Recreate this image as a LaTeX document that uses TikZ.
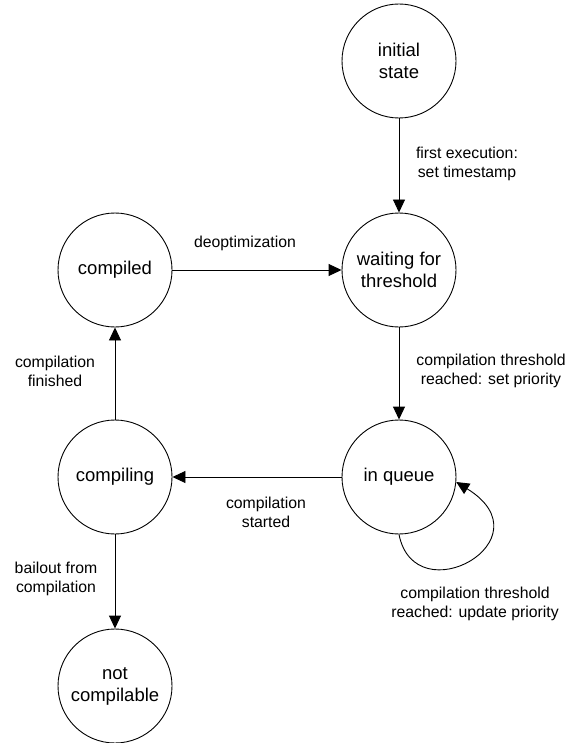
\documentclass[tikz,border=0pt]{standalone}
\usepackage{fontspec}
\setmainfont{Liberation Sans}
\usetikzlibrary{arrows.meta}
\begin{document}
\begin{tikzpicture}[x=1pt,y=-1pt,
  state/.style={circle,draw,line width=0.9pt,minimum size=114pt,inner sep=0pt,align=center,font=\fontsize{18.5}{22}\selectfont},
  lbl/.style={align=center,font=\fontsize{15.8}{19}\selectfont},
  edge/.style={draw,line width=0.9pt,-{Triangle[length=13pt,width=12pt]}}]
\useasboundingbox (0,0) rectangle (574,743);
\node[state] (init) at (399,61) {initial\\state};
\node[state] (wait) at (399,270) {waiting for\\threshold};
\node[state] (comp) at (115,270) {compiled};
\node[state] (queue) at (399,477) {in queue};
\node[state] (cing) at (115,477) {compiling};
\node[state] (notc) at (115,686) {not\\compilable};
\draw[edge] (init) -- (wait);
\draw[edge] (comp) -- (wait);
\draw[edge] (wait) -- (queue);
\draw[edge] (queue) -- (cing);
\draw[edge] (cing) -- (comp);
\draw[edge] (cing) -- (notc);
\draw[edge] (queue.south) .. controls (415,615) and (550,540) .. (queue.-5);
\node[lbl] (l1) at (467,164) {first execution:\\set timestamp};
\node[lbl] (l2) at (245,243) {deoptimization};
\node[lbl] (l3) at (491,371) {compilation threshold\\reached: set priority};
\node[lbl] (l4) at (266,512) {compilation\\started};
\node[lbl] (l5) at (55,371) {compilation\\finished};
\node[lbl] (l6) at (56,579) {bailout from\\compilation};
\node[lbl] (l7) at (475,604) {compilation threshold\\reached: update priority};
\end{tikzpicture}
\end{document}
